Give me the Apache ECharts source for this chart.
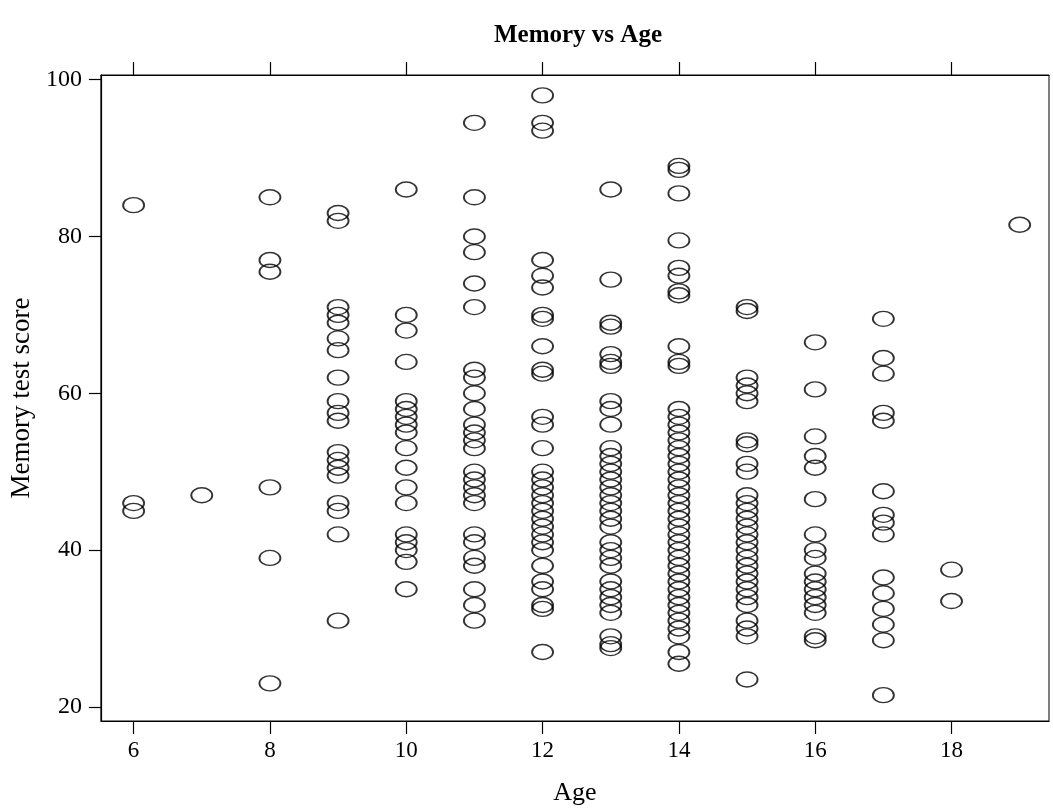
<!DOCTYPE html>
<html>
<head>
<meta charset="utf-8">
<script src="https://cdn.jsdelivr.net/npm/echarts@6/dist/echarts.min.js"></script>
<style>
html,body{margin:0;padding:0;background:#fff;}
#c{width:1053px;height:811px;}
</style>
</head>
<body>
<div id="c"></div>
<script>
// Data: memory test score by age
const xTicks = [6, 8, 10, 12, 14, 16, 18];
const yTicks = [20, 40, 60, 80, 100];
const age6 = [84, 46, 45];
const age7 = [47];
const age8 = [85, 77, 75.5, 48, 39, 23];
const age9 = [83, 82, 71, 70, 69, 67, 65.5, 62, 59, 57.5, 56.5, 52.5, 51.5, 50.5, 49.5, 46, 45, 42, 31];
const age10 = [86, 70, 68, 64, 59, 58, 57, 56, 55, 53, 50.5, 48, 46, 42, 41, 40, 38.5, 35];
const age11 = [94.5, 85, 80, 78, 74, 71, 63, 62, 60, 58, 56, 55, 54, 53, 50, 49, 48, 47, 46, 42, 41, 39, 38, 35, 33, 31];
const age12 = [98, 94.5, 93.5, 77, 75, 73.5, 70, 69.5, 66, 63, 62.5, 57, 56, 53, 50, 49, 48, 47, 46, 45, 44, 43, 42, 41, 40, 38, 36, 35, 33, 32.5, 27];
const age13 = [86, 74.5, 69, 68.5, 65, 64, 63.5, 59, 58, 56, 53, 52, 51, 50, 49, 48, 47, 46, 45, 44, 43, 41, 40, 39, 38, 36, 35, 34, 33, 32, 29, 28, 27.5];
const age14 = [89, 88.5, 85.5, 79.5, 76, 75, 73, 72.5, 66, 64, 63.5, 58, 57, 56, 55, 54, 53, 52, 51, 50, 49, 48, 47, 46, 45, 44, 43, 42, 41, 40, 39, 38, 37, 36, 35, 34, 33, 32, 31, 30, 29, 27, 25.5];
const age15 = [71, 70.5, 62, 61, 60, 59, 54, 53.5, 51, 50, 47, 46, 45, 44, 43, 42, 41, 40, 39, 38, 37, 36, 35, 34, 33, 31, 30, 29, 23.5];
const age16 = [66.5, 60.5, 54.5, 52, 50.5, 46.5, 42, 40, 39, 37, 36, 35, 34, 33, 32, 29, 28.5];
const age17 = [69.5, 64.5, 62.5, 57.5, 56.5, 47.5, 44.5, 43.5, 42, 36.5, 34.5, 32.5, 30.5, 28.5, 21.5];
const age18 = [37.5, 33.5];
const age19 = [81.5];

const groups = [[6, age6], [7, age7], [8, age8], [9, age9], [10, age10], [11, age11], [12, age12], [13, age13], [14, age14], [15, age15], [16, age16], [17, age17], [18, age18], [19, age19]];
const points = [];
groups.forEach(([a, arr]) => arr.forEach(v => points.push([a, v])));

const font = "'Liberation Serif', 'Times New Roman', serif";
const chart = echarts.init(document.getElementById('c'), null, {renderer: 'canvas'});
chart.setOption({
  animation: false,
  backgroundColor: '#fff',
  title: {
    text: 'Memory vs Age',
    left: 573, top: 18, textAlign: 'center',
    textStyle: {fontFamily: font, fontWeight: 'bold', fontSize: 25, color: '#000'}
  },
  grid: {left: 97, right: 4, top: 75, bottom: 86, show: true, borderColor: '#000', borderWidth: 1, backgroundColor: 'transparent'},
  xAxis: [{
    type: 'value', min: 5.52, max: 19.43, position: 'bottom',
    name: 'Age', nameLocation: 'middle', nameGap: 59,
    nameTextStyle: {fontFamily: font, fontSize: 26, color: '#000'},
    axisLine: {show: true, onZero: false, lineStyle: {color: '#000', width: 1.2}},
    axisTick: {show: true, length: 13, customValues: xTicks, lineStyle: {color: '#000', width: 1.2}},
    axisLabel: {customValues: xTicks, fontFamily: font, fontSize: 23, color: '#000', margin: 18},
    splitLine: {show: false}
  }, {
    type: 'value', min: 5.52, max: 19.43, position: 'top',
    axisLine: {show: true, onZero: false, lineStyle: {color: '#000', width: 1.2}},
    axisTick: {show: true, length: 13, customValues: xTicks, lineStyle: {color: '#000', width: 1.2}},
    axisLabel: {show: false},
    splitLine: {show: false}
  }],
  yAxis: [{
    type: 'value', min: 18.2, max: 100.6,
    name: 'Memory test score', nameLocation: 'middle', nameGap: 57, nameRotate: 90,
    nameTextStyle: {fontFamily: font, fontSize: 27, color: '#000'},
    axisLine: {show: true, onZero: false, lineStyle: {color: '#000', width: 1.2}},
    axisTick: {show: true, length: 12, customValues: yTicks, lineStyle: {color: '#000', width: 1.2}},
    axisLabel: {customValues: yTicks, fontFamily: font, fontSize: 24, color: '#000', margin: 19},
    splitLine: {show: false}
  }],
  series: [{
    type: 'scatter',
    data: points,
    symbol: 'circle',
    symbolSize: [21, 15],
    itemStyle: {color: 'transparent', borderColor: '#000', borderWidth: 1.6}
  }]
});
</script>
</body>
</html>
